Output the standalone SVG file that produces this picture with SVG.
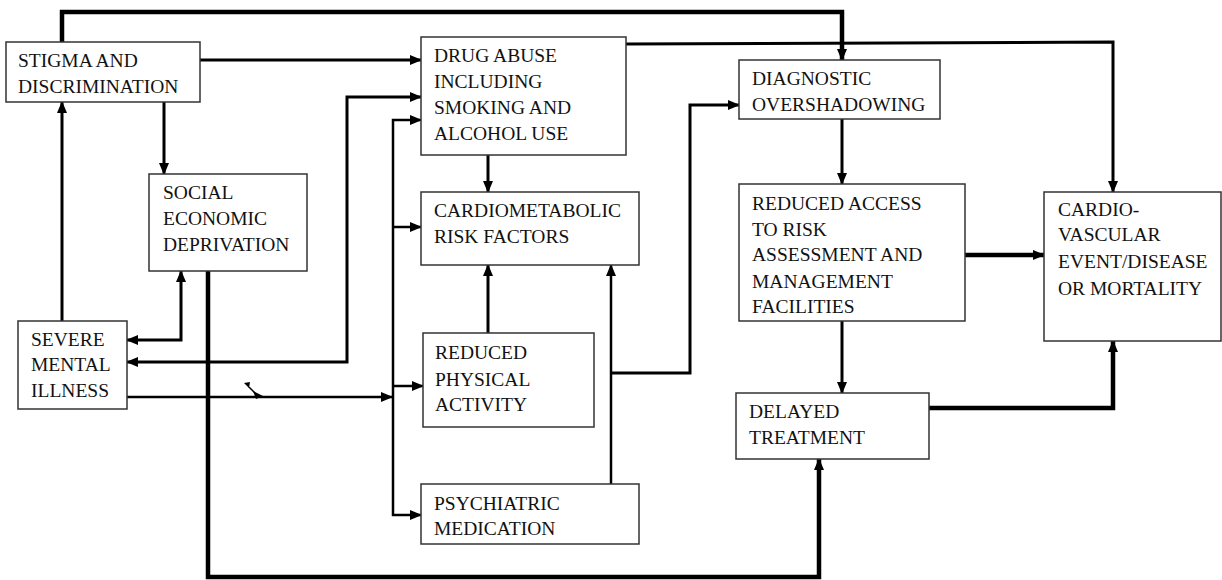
<svg xmlns="http://www.w3.org/2000/svg" width="1222" height="580" viewBox="0 0 1222 580">
<style>
.box{fill:#fff;stroke:#333;stroke-width:1.5}
.t{font-family:"Liberation Serif","Times New Roman",serif;font-size:19.5px;fill:#111}
.c{fill:none;stroke:#000;stroke-linejoin:miter}
.w2{stroke-width:2.5}
.w3{stroke-width:3}
.w4{stroke-width:4.5}
</style>
<defs>
<marker id="ah" markerUnits="userSpaceOnUse" markerWidth="12" markerHeight="12" viewBox="0 0 12 12" refX="11" refY="6" orient="auto-start-reverse">
<path d="M0,1 L12,6 L0,11 z" fill="#000"/>
</marker>
</defs>
<rect width="1222" height="580" fill="#fff"/>
<g id="connectors">
<path class="c w4" d="M62,42 V12 H842 V60" marker-end="url(#ah)"/>
<path class="c w3" d="M200,60 H421" marker-end="url(#ah)"/>
<path class="c w3" d="M164,102 V174" marker-end="url(#ah)"/>
<path class="c w3" d="M62,321 V102" marker-end="url(#ah)"/>
<path class="c w3" d="M127,340 H181 V271" marker-start="url(#ah)" marker-end="url(#ah)"/>
<path class="c w4" d="M208,271 V577 H819 V459" marker-end="url(#ah)"/>
<path class="c w3" d="M127,362 H347 V97 H421" marker-start="url(#ah)" marker-end="url(#ah)"/>
<path class="c w2" d="M127,397 H392" marker-end="url(#ah)"/>
<path class="c w2" d="M421,120 H393 V515 H421" marker-start="url(#ah)" marker-end="url(#ah)"/>
<path class="c w2" d="M393,227 H421" marker-end="url(#ah)"/>
<path class="c w2" d="M393,386 H423" marker-end="url(#ah)"/>
<path class="c w3" d="M488,155 V192" marker-end="url(#ah)"/>
<path class="c w3" d="M488,333 V265" marker-end="url(#ah)"/>
<path class="c w2" d="M611,484 V265" marker-end="url(#ah)"/>
<path class="c w3" d="M611,373 H690 V105 H739" marker-end="url(#ah)"/>
<path class="c w3" d="M626,44 L1113,42 V192" marker-end="url(#ah)"/>
<path class="c w3" d="M842,119 V184" marker-end="url(#ah)"/>
<path class="c w4" d="M965,255 H1044" marker-end="url(#ah)"/>
<path class="c w3" d="M842,321 V393" marker-end="url(#ah)"/>
<path class="c w4" d="M929,408 H1113 V341" marker-end="url(#ah)"/>
<path d="M244,383 L250,382 L249,388 z" fill="#000"/>
<path class="c" stroke-width="1.5" d="M249,387 L255,393"/>
<path d="M253,391 L263,396 L256,399 z" fill="#000"/>
</g>
<g id="stigma">
<rect class="box" x="6" y="42" width="194" height="60"/>
<text class="t" x="18" y="67">STIGMA AND</text>
<text class="t" x="18" y="93">DISCRIMINATION</text>
</g>
<g id="social">
<rect class="box" x="149" y="174" width="158" height="97"/>
<text class="t" x="163" y="199">SOCIAL</text>
<text class="t" x="163" y="225">ECONOMIC</text>
<text class="t" x="163" y="251">DEPRIVATION</text>
</g>
<g id="severe">
<rect class="box" x="18" y="321" width="109" height="88"/>
<text class="t" x="31" y="346">SEVERE</text>
<text class="t" x="31" y="371">MENTAL</text>
<text class="t" x="31" y="397">ILLNESS</text>
</g>
<g id="drug">
<rect class="box" x="421" y="37" width="205" height="118"/>
<text class="t" x="434" y="62">DRUG ABUSE</text>
<text class="t" x="434" y="88">INCLUDING</text>
<text class="t" x="434" y="114">SMOKING AND</text>
<text class="t" x="434" y="140">ALCOHOL USE</text>
</g>
<g id="cardiometabolic">
<rect class="box" x="421" y="192" width="218" height="73"/>
<text class="t" x="434" y="217">CARDIOMETABOLIC</text>
<text class="t" x="434" y="243">RISK FACTORS</text>
</g>
<g id="physical">
<rect class="box" x="423" y="333" width="171" height="94"/>
<text class="t" x="435" y="359">REDUCED</text>
<text class="t" x="435" y="386">PHYSICAL</text>
<text class="t" x="435" y="411">ACTIVITY</text>
</g>
<g id="psychiatric">
<rect class="box" x="421" y="484" width="218" height="60"/>
<text class="t" x="434" y="510">PSYCHIATRIC</text>
<text class="t" x="434" y="535">MEDICATION</text>
</g>
<g id="diagnostic">
<rect class="box" x="739" y="60" width="201" height="59"/>
<text class="t" x="752" y="85">DIAGNOSTIC</text>
<text class="t" x="752" y="111">OVERSHADOWING</text>
</g>
<g id="access">
<rect class="box" x="739" y="184" width="226" height="137"/>
<text class="t" x="752" y="210">REDUCED ACCESS</text>
<text class="t" x="752" y="236">TO RISK</text>
<text class="t" x="752" y="261">ASSESSMENT AND</text>
<text class="t" x="752" y="288">MANAGEMENT</text>
<text class="t" x="752" y="313">FACILITIES</text>
</g>
<g id="cardio">
<rect class="box" x="1044" y="192" width="177" height="149"/>
<text class="t" x="1058" y="216">CARDIO-</text>
<text class="t" x="1058" y="241">VASCULAR</text>
<text class="t" x="1058" y="268">EVENT/DISEASE</text>
<text class="t" x="1058" y="295">OR MORTALITY</text>
</g>
<g id="delayed">
<rect class="box" x="736" y="393" width="193" height="66"/>
<text class="t" x="749" y="418">DELAYED</text>
<text class="t" x="749" y="444">TREATMENT</text>
</g>
</svg>
